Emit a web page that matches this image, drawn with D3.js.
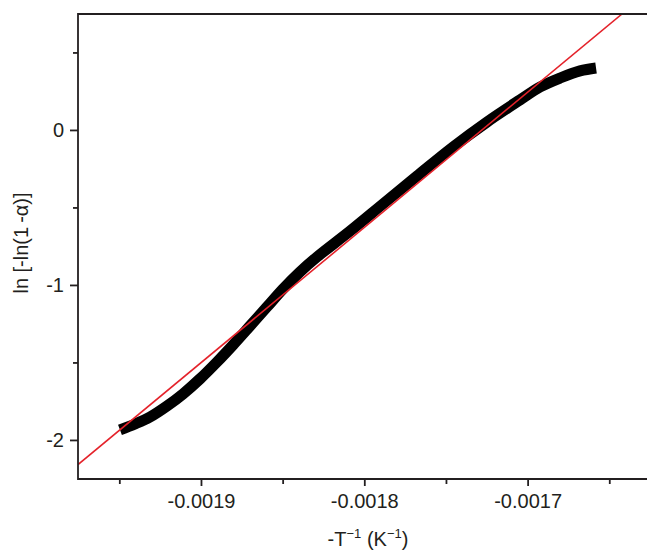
<!DOCTYPE html>
<html>
<head>
<meta charset="utf-8">
<script src="https://cdn.jsdelivr.net/npm/d3@7"></script>
<style>
  body { margin: 0; background: #fff; }
  svg { display: block; font-family: "Liberation Sans", Arial, Helvetica, sans-serif; }
</style>
</head>
<body>
<svg></svg>
<script>
const margin = { t: 14, r: 0, b: 72, l: 78 };
const size = { w: 647, h: 551 };

// measured curve: -1/T (1/K) vs ln[-ln(1-alpha)]
const tInv = [-0.0019496, -0.0019404, -0.0019312, -0.0019208, -0.001911, -0.0019006,
	-0.0018902, -0.0018804, -0.00187, -0.0018596, -0.0018498, -0.0018394, -0.0018289,
	-0.0018087, -0.0017885, -0.0017677, -0.0017457, -0.0017248, -0.0017046, -0.0016924,
	-0.0016801, -0.0016679, -0.0016581];
const lnAlpha = [-1.935, -1.897, -1.852, -1.781, -1.703, -1.606, -1.497, -1.387, -1.265,
	-1.142, -1.026, -0.916, -0.819, -0.652, -0.477, -0.297, -0.11, 0.052, 0.194, 0.277,
	0.335, 0.381, 0.4];

// linear fit (red line) end points
const fitX = [-0.0019753, -0.0016422];
const fitY = [-2.159, 0.748];

// ticks
const xMajor = [-0.0019, -0.0018, -0.0017];
const xMinor = [-0.00195, -0.00185, -0.00175, -0.00165];
const yMajor = [0, -1, -2];
const yMinor = [0.5, -0.5, -1.5];

const svg = d3.select("svg").attr("width", size.w).attr("height", size.h);

const x = d3.scaleLinear()
	.domain([-0.0019753, -0.0016269])
	.range([margin.l, size.w - margin.r]);
const y = d3.scaleLinear()
	.domain([-2.252, 0.748])
	.range([size.h - margin.b, margin.t]);

svg.append("clipPath").attr("id", "plot")
	.append("rect")
	.attr("x", margin.l).attr("y", margin.t)
	.attr("width", size.w - margin.l - margin.r)
	.attr("height", size.h - margin.t - margin.b);

const plotG = svg.append("g").attr("clip-path", "url(#plot)");

// data band
const line = d3.line()
	.x((d, i) => x(tInv[i]))
	.y((d, i) => y(lnAlpha[i]))
	.curve(d3.curveCatmullRom);

plotG.append("path")
	.attr("d", line(tInv))
	.attr("fill", "none")
	.attr("stroke", "#000")
	.attr("stroke-width", 11)
	.attr("stroke-linecap", "butt");

// fit line
plotG.append("line")
	.attr("x1", x(fitX[0])).attr("y1", y(fitY[0]))
	.attr("x2", x(fitX[1])).attr("y2", y(fitY[1]))
	.attr("stroke", "#e4222a")
	.attr("stroke-width", 1.6);

// axes
const axisColor = "#231f20";
const hyphen = (s) => s.replace("\u2212", "-");
const fmtX = (d) => hyphen(d3.format(".4f")(d));
const fmtY = (d) => hyphen(d3.format("d")(d));

const xAxis = svg.append("g")
	.attr("transform", `translate(0,${size.h - margin.b})`)
	.call(d3.axisBottom(x).tickValues(xMajor).tickSize(7).tickPadding(8).tickFormat(fmtX));
const xAxisMinor = svg.append("g")
	.attr("transform", `translate(0,${size.h - margin.b})`)
	.call(d3.axisBottom(x).tickValues(xMinor).tickSize(5).tickFormat(""));

const yAxis = svg.append("g")
	.attr("transform", `translate(${margin.l},0)`)
	.call(d3.axisLeft(y).tickValues(yMajor).tickSize(8).tickPadding(6).tickFormat(fmtY));
const yAxisMinor = svg.append("g")
	.attr("transform", `translate(${margin.l},0)`)
	.call(d3.axisLeft(y).tickValues(yMinor).tickSize(5).tickFormat(""));

[xAxis, xAxisMinor, yAxis, yAxisMinor].forEach((g) => {
	g.select(".domain").remove();
	g.selectAll("line").attr("stroke", axisColor).attr("stroke-width", 1.8);
	g.selectAll("text")
		.attr("fill", "#231f20")
		.style("font-size", "20px")
		.style("font-family", "Liberation Sans, Arial, sans-serif");
});
yAxis.selectAll("text").attr("dy", "0.35em");

// frame: left, top and bottom lines
svg.append("path")
	.attr("d", `M${size.w},${margin.t}H${margin.l}V${size.h - margin.b}H${size.w}`)
	.attr("fill", "none")
	.attr("stroke", axisColor)
	.attr("stroke-width", 1.8);

// axis titles
const xTitle = svg.append("text")
	.attr("x", 368)
	.attr("y", 546)
	.attr("text-anchor", "middle")
	.attr("fill", "#231f20")
	.style("font-size", "20px");
xTitle.append("tspan").text("-T");
xTitle.append("tspan").attr("dy", -8).style("font-size", "13px").text("\u22121");
xTitle.append("tspan").attr("dy", 8).text(" (K");
xTitle.append("tspan").attr("dy", -8).style("font-size", "13px").text("\u22121");
xTitle.append("tspan").attr("dy", 8).text(")");

svg.append("text")
	.attr("transform", "translate(28,243) rotate(-90)")
	.attr("text-anchor", "middle")
	.attr("fill", "#231f20")
	.style("font-size", "20px")
	.text("ln [-ln(1\u2009-\u03b1)]");
</script>
</body>
</html>
